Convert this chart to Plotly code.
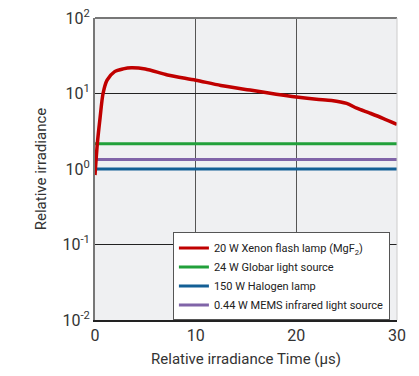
import plotly.graph_objects as go

time_us = [0, 0.23, 0.5, 0.8, 1.2, 1.95, 2.8, 3.6, 5, 7.2, 10, 12.5, 15.4, 18, 20, 22, 23.5, 25, 26, 27.3, 28.6, 30]
xenon = [0.83, 2.16, 4.7, 10, 15, 19.5, 21.2, 21.9, 21.1, 17.6, 15, 12.8, 11.1, 9.8, 9.0, 8.4, 8.1, 7.4, 6.4, 5.5, 4.7, 3.9]
flat_t = [0, 30]
globar = [2.16, 2.16]
halogen = [1.0, 1.0]
mems = [1.34, 1.34]

names = ["20 W Xenon flash lamp (MgF<sub>2</sub>)", "24 W Globar light source",
         "150 W Halogen lamp", "0.44 W MEMS infrared light source"]
colors = ["#c00000", "#21a03a", "#135f95", "#8064a8"]

y_tickvals = [0.01, 0.1, 1, 10, 100]
y_ticktext = ["10<sup>-2</sup>", "10<sup>-1</sup>", "10<sup>0</sup>", "10<sup>1</sup>", "10<sup>2</sup>"]
x_tickvals = [0, 10, 20, 30]

fig = go.Figure()
fig.add_trace(go.Scatter(x=flat_t, y=globar, mode="lines", name=names[1],
                         line=dict(color=colors[1], width=3), showlegend=False))
fig.add_trace(go.Scatter(x=flat_t, y=mems, mode="lines", name=names[3],
                         line=dict(color=colors[3], width=3), showlegend=False))
fig.add_trace(go.Scatter(x=flat_t, y=halogen, mode="lines", name=names[2],
                         line=dict(color=colors[2], width=3), showlegend=False))
fig.add_trace(go.Scatter(x=time_us, y=xenon, mode="lines", name=names[0],
                         line=dict(color=colors[0], width=3.5, shape="spline", smoothing=0.8),
                         showlegend=False))
for nm, c in zip(names, colors):
    fig.add_trace(go.Scatter(x=[None], y=[None], mode="lines", name=nm,
                             line=dict(color=c, width=3)))

fig.update_layout(
    width=419, height=376,
    margin=dict(l=95, r=22, t=18, b=56),
    paper_bgcolor="white",
    plot_bgcolor="#eff0f2",
    font=dict(family="Roboto", size=15, color="#333333"),
    legend=dict(x=0.258, y=0.29, xanchor="left", yanchor="top",
                bgcolor="white", bordercolor="#555555", borderwidth=1,
                font=dict(size=11, color="#222222"),
                tracegroupgap=0, itemwidth=30),
    xaxis=dict(range=[0, 30], tickvals=x_tickvals, showgrid=True, automargin=False,
               gridcolor="#555555", gridwidth=1, zeroline=False,
               showline=True, linecolor="#222222", linewidth=1.5, mirror=False,
               ticks="", title=dict(text="Relative irradiance Time (μs)", font=dict(size=15), standoff=10),
               tickfont=dict(size=16)),
    yaxis=dict(type="log", range=[-2, 2], tickvals=y_tickvals, ticktext=y_ticktext,
               showgrid=True, gridcolor="#222222", gridwidth=1, zeroline=False, automargin=False,
               showline=True, linecolor="#777777", linewidth=2, ticks="",
               title=dict(text="Relative irradiance", font=dict(size=15), standoff=12),
               tickfont=dict(size=16)),
    shapes=[
        dict(type="line", xref="paper", yref="paper", x0=0, x1=1, y0=1, y1=1,
             line=dict(color="#777777", width=2)),
        dict(type="line", xref="paper", yref="paper", x0=1, x1=1, y0=0, y1=1,
             line=dict(color="#cccccc", width=1)),
    ],
)

fig.write_html("out.html", config={"displayModeBar": False},
               post_script="document.body.style.margin='0';")
